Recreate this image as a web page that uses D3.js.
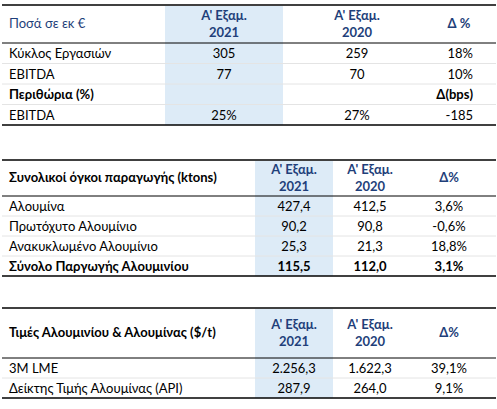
<!DOCTYPE html><html><head><meta charset="utf-8"><script src="https://cdn.jsdelivr.net/npm/d3@7"></script>
<style>body{margin:0;background:#fff}text{font-family:Lato,"Noto Sans",sans-serif;font-size:13px;fill:#000}</style></head><body>
<script>
const colHeader=["Α' Εξαμ.","2021","Α' Εξαμ.","2020"];
const t1Labels=["Κύκλος Εργασιών","EBITDA","Περιθώρια (%)","EBITDA"];
const t1Y21=["305","77","","25%"];
const t1Y20=["259","70","","27%"];
const t1D=["18%","10%","Δ(bps)","-185"];
const t2Labels=["Αλουμίνα","Πρωτόχυτο Αλουμίνιο","Ανακυκλωμένο Αλουμίνιο","Σύνολο Παργωγής Αλουμινίου"];
const t2Y21=["427,4","90,2","25,3","115,5"];
const t2Y20=["412,5","90,8","21,3","112,0"];
const t2D=["3,6%","-0,6%","18,8%","3,1%"];
const t3Labels=["3M LME","Δείκτης Τιμής Αλουμίνας (API)"];
const t3Y21=["2.256,3","287,9"];
const t3Y20=["1.622,3","264,0"];
const t3D=["39,1%","9,1%"];
const blue="#1f3f7a";
const svg=d3.select("body").append("svg").attr("width",497).attr("height",409);
function table(o){
 const g=svg.append("g");
 const rows=o.labels.map((l,i)=>({l,a:o.a[i],b:o.b[i],d:o.d[i],i}));
 const y=d3.scaleBand().domain(d3.range(rows.length)).range([o.hb,o.bot]);
 g.append("rect").attr("x",o.sx0).attr("width",o.sx1-o.sx0).attr("y",o.top+1).attr("height",o.bot-o.top-1).attr("fill","#ddebf7");
 y.domain().slice(1).forEach(i=>g.append("line").attr("x1",2).attr("x2",496).attr("y1",y(i)).attr("y2",y(i)).attr("stroke","#e4e4e4"));
 [o.top,o.bot].forEach(v=>g.append("line").attr("x1",2).attr("x2",496).attr("y1",v).attr("y2",v).attr("stroke","#000").attr("stroke-width",1.3));
 g.append("line").attr("x1",2).attr("x2",496).attr("y1",o.hb).attr("y2",o.hb).attr("stroke","#000").attr("stroke-width",1);
 const hy=(o.top+o.hb)/2;
 g.append("text").attr("x",9).attr("y",hy+4).text(o.title).style("font-weight",o.tb?"bold":"normal").style("fill",o.tb?"#000":blue);
 [[o.ca,0],[o.cb,2]].forEach(([cx,k])=>{
  g.append("text").attr("x",cx).attr("y",hy-4).attr("text-anchor","middle").style("font-weight","bold").style("fill",blue).text(colHeader[k]);
  g.append("text").attr("x",cx).attr("y",hy+13).attr("text-anchor","middle").style("font-weight","bold").style("fill",blue).text(colHeader[k+1]);
 });
 g.append("text").attr("x",o.cd).attr("y",hy+4).attr("text-anchor","middle").style("font-weight","bold").style("fill",blue).text(o.dh);
 const r=g.selectAll(".r").data(rows).join("g").attr("transform",d=>`translate(0,${y(d.i)+y.bandwidth()/2+5})`).style("font-weight",d=>o.bold.includes(d.i)?"bold":"normal");
 r.append("text").attr("x",9).text(d=>d.l).style("font-weight",d=>o.bold.includes(d.i)?"bold":"normal");
 r.append("text").attr("x",o.ca).attr("text-anchor","middle").text(d=>d.a).style("font-weight",d=>o.bold.includes(d.i)?"bold":"normal");
 r.append("text").attr("x",o.cb).attr("text-anchor","middle").text(d=>d.b).style("font-weight",d=>o.bold.includes(d.i)?"bold":"normal");
 r.append("text").attr("x",o.dx).attr("text-anchor",o.da).text(d=>d.d).style("font-weight",d=>o.bold.includes(d.i)||d.d.startsWith("Δ")?"bold":"normal");
}
table({labels:t1Labels,a:t1Y21,b:t1Y20,d:t1D,top:5,hb:43,bot:125,sx0:165,sx1:283,ca:224,cb:357,cd:459,dh:"Δ %",dx:473,da:"end",title:"Ποσά σε εκ €",tb:false,bold:[2]});
table({labels:t2Labels,a:t2Y21,b:t2Y20,d:t2D,top:160,hb:196,bot:276,sx0:255,sx1:333,ca:294,cb:370,cd:449,dh:"Δ%",dx:449,da:"middle",title:"Συνολικοί όγκοι παραγωγής (ktons)",tb:true,bold:[3]});
table({labels:t3Labels,a:t3Y21,b:t3Y20,d:t3D,top:308,hb:358,bot:398,sx0:255,sx1:333,ca:294,cb:370,cd:449,dh:"Δ%",dx:449,da:"middle",title:"Τιμές Αλουμινίου & Αλουμίνας ($/t)",tb:true,bold:[]});
</script></body></html>
